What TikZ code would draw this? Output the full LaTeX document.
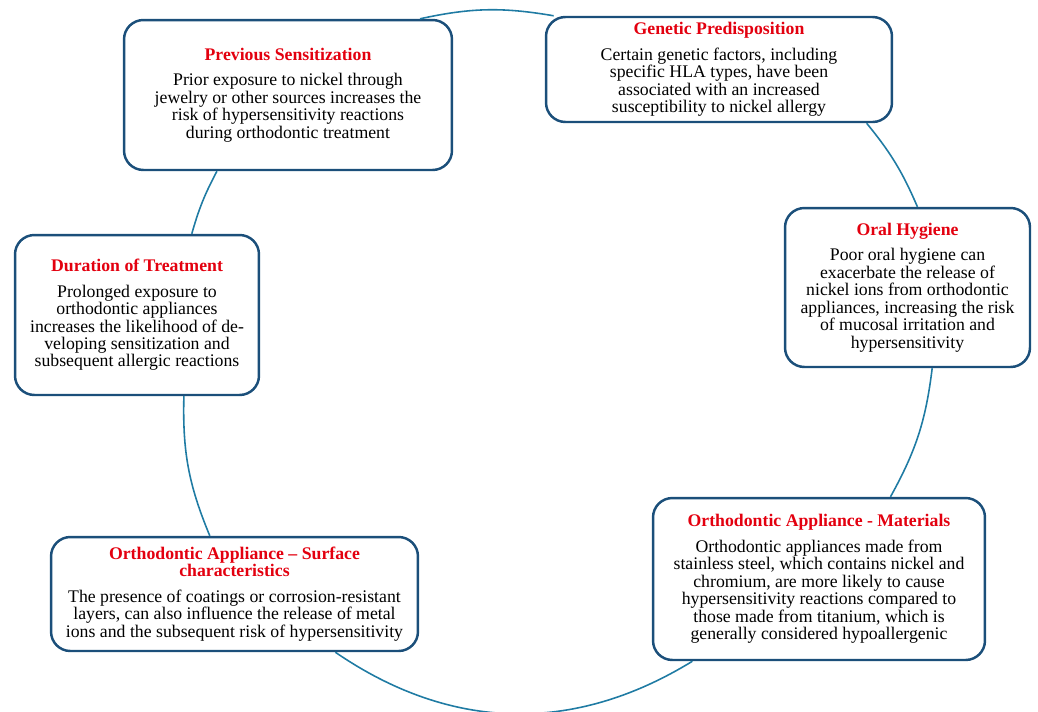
\documentclass[tikz,border=0pt]{standalone}
\usepackage{fontspec}
\setmainfont{Liberation Serif}
\usepackage{xcolor}
\definecolor{cBox}{HTML}{1B4F7A}
\definecolor{cRing}{HTML}{1F7BA3}
\definecolor{cTitle}{HTML}{E3000F}
\usepackage{tikz}
\tikzset{
  node-factor/.style={draw=cBox,line width=1.4pt,rounded corners=11pt,
    align=center,inner sep=2pt,font=\fontsize{10.1}{9.95}\selectfont},
  link-ring/.style={draw=cRing,line width=0.9pt},
}
\newcommand{\factortitle}[1]{\textcolor{cTitle}{\bfseries #1}}

\begin{document}
\begin{tikzpicture}[x=0.02cm,y=-0.02cm]
  \useasboundingbox (0,0) rectangle (1038,711);
  \clip (0,0) rectangle (1038,711);
  % six risk factors placed round the ring
  \node[node-factor,minimum width=6.56cm,minimum height=3.0cm] (prev) at (288,95)
    {\factortitle{Previous Sensitization}\\[4.5pt]
     Prior exposure to nickel through\\
     jewelry or other sources increases the\\
     risk of hypersensitivity reactions\\
     during orthodontic treatment};
  \node[node-factor,minimum width=6.92cm,minimum height=2.1cm] (gen) at (719,69.5)
    {\factortitle{Genetic Predisposition}\\[4.5pt]
     Certain genetic factors, including\\
     specific HLA types, have been\\
     associated with an increased\\
     susceptibility to nickel allergy};
  \node[node-factor,minimum width=4.9cm,minimum height=3.18cm] (oral) at (907.5,287.5)
    {\factortitle{Oral Hygiene}\\[4.5pt]
     Poor oral hygiene can\\
     exacerbate the release of\\
     nickel ions from orthodontic\\
     appliances, increasing the risk\\
     of mucosal irritation and\\
     hypersensitivity};
  \node[node-factor,minimum width=4.88cm,minimum height=3.2cm] (dur) at (137,315)
    {\factortitle{Duration of Treatment}\\[4.5pt]
     Prolonged exposure to\\
     orthodontic appliances\\
     increases the likelihood of de-\\
     veloping sensitization and\\
     subsequent allergic reactions};
  \node[node-factor,minimum width=7.34cm,minimum height=2.28cm] (surf) at (234.5,594)
    {\factortitle{Orthodontic Appliance -- Surface}\\
     \factortitle{characteristics}\\[4.5pt]
     The presence of coatings or corrosion-resistant\\
     layers, can also influence the release of metal\\
     ions and the subsequent risk of hypersensitivity};
  \node[node-factor,minimum width=6.64cm,minimum height=3.24cm] (mat) at (819,579)
    {\factortitle{Orthodontic Appliance - Materials}\\[4.5pt]
     Orthodontic appliances made from\\
     stainless steel, which contains nickel and\\
     chromium, are more likely to cause\\
     hypersensitivity reactions compared to\\
     those made from titanium, which is\\
     generally considered hypoallergenic};
  % ring segments
  \draw[link-ring] (prev.30) to[bend left=11] (gen.162);
  \draw[link-ring] (gen.-20) to[bend left=8] (oral.83);
  \draw[link-ring] (oral.-73) to[bend left=11] (mat.49);
  \draw[link-ring] (mat.213) to[bend left=33] (surf.-30);
  \draw[link-ring] (surf.113) to[bend left=12] (dur.-60);
  \draw[link-ring] (dur.56) to[bend left=6] (prev.227);
\end{tikzpicture}
\end{document}
